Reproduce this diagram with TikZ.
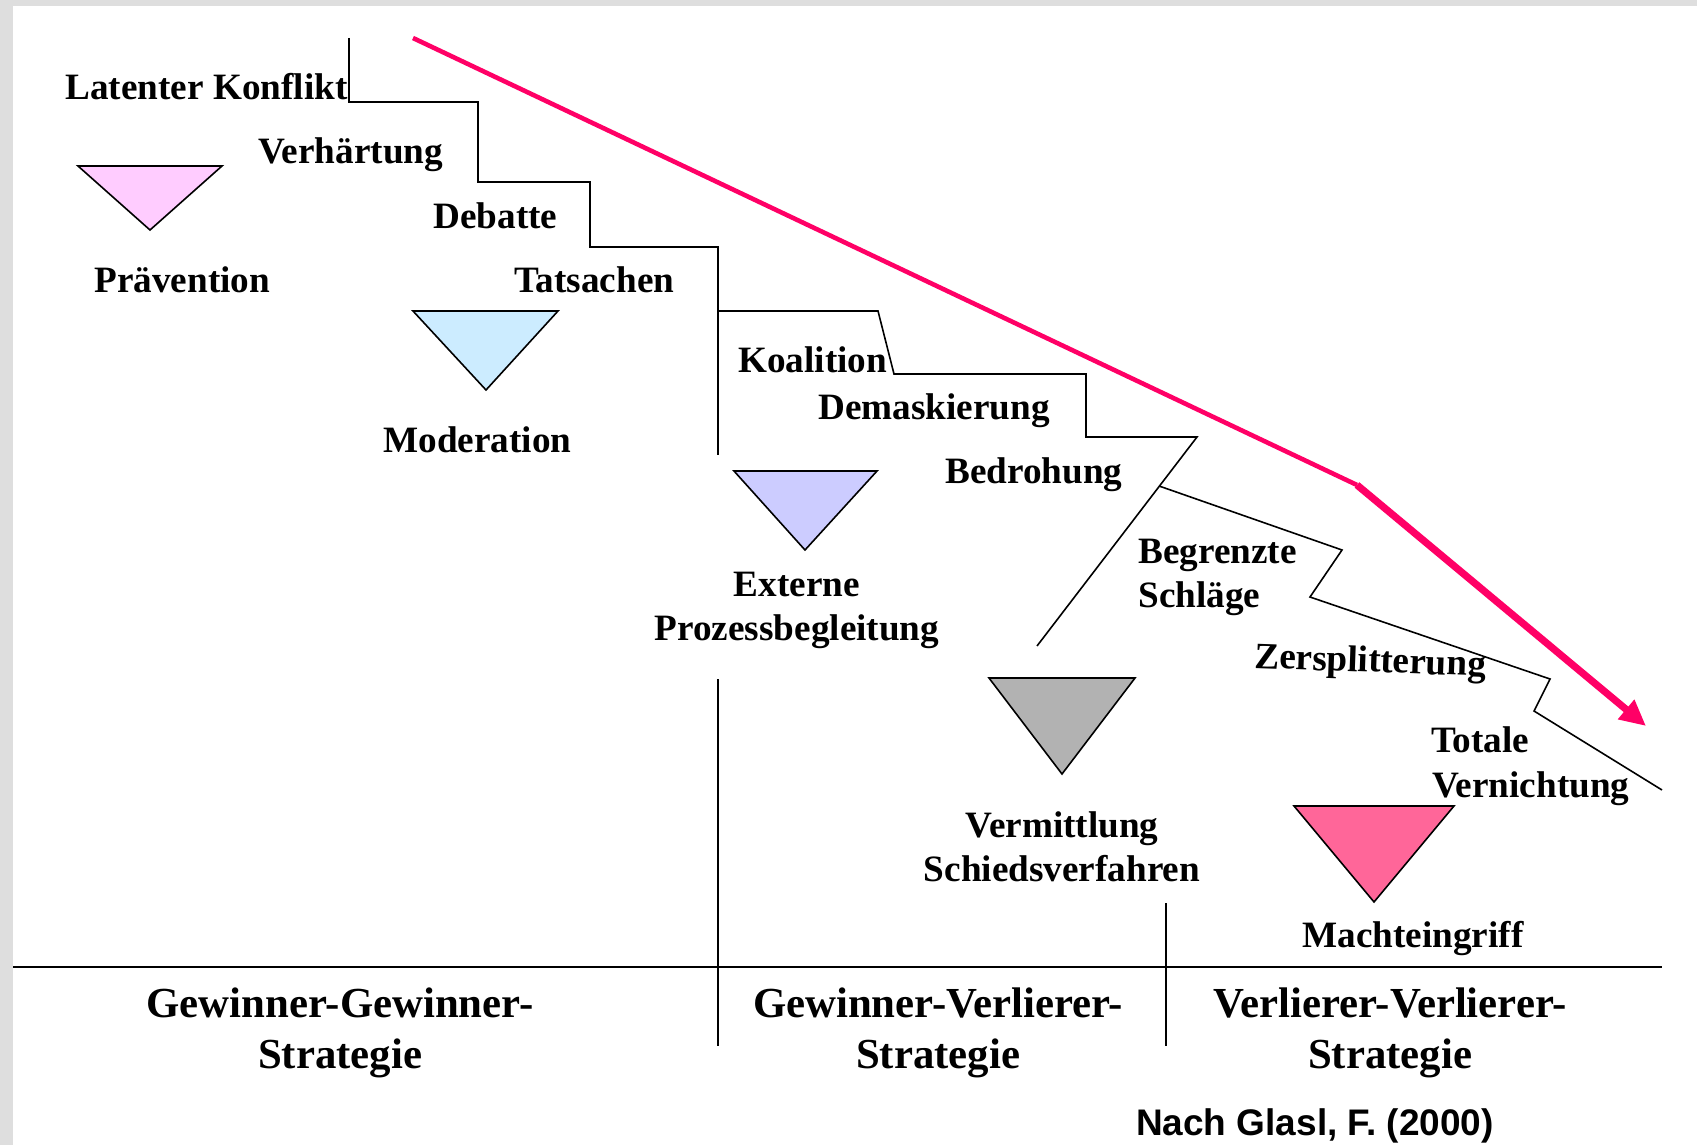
\documentclass[tikz,border=0pt]{standalone}
\usepackage{fontspec}
\setmainfont{Liberation Serif}
\newfontfamily\arialfont{Liberation Sans}
\usetikzlibrary{arrows.meta,calc}
\definecolor{bordergray}{RGB}{222,222,222}
\definecolor{arrowred}{RGB}{255,0,102}
\definecolor{praevfill}{RGB}{255,204,255}
\definecolor{modfill}{RGB}{204,236,255}
\definecolor{extfill}{RGB}{204,204,255}
\definecolor{vermfill}{RGB}{178,178,178}
\definecolor{machtfill}{RGB}{255,102,153}
\begin{document}
\begin{tikzpicture}[x=0.5pt,y=-0.5pt,
  lbl/.style={inner sep=0pt, anchor=base west, font=\bfseries\fontsize{18.6pt}{22pt}\selectfont},
  clbl/.style={inner sep=0pt, anchor=base, font=\bfseries\fontsize{18.6pt}{22pt}\selectfont},
  strat/.style={inner sep=0pt, anchor=base, font=\bfseries\fontsize{21.4pt}{23pt}\selectfont},
  stair/.style={draw=black, line width=0.8pt, line join=miter},
  sepline/.style={draw=black, line width=0.85pt},
  tri/.style={draw=black, line width=0.8pt, line join=miter}]

\useasboundingbox (0,0) rectangle (1697,1145);
\fill[bordergray] (0,0) rectangle (1697,1145);
\fill[white] (13,6) rectangle (1697,1145);

% staircase coordinates
\coordinate (s1) at (349,38);
\coordinate (s2) at (349,102);
\coordinate (s3) at (478,102);
\coordinate (s4) at (478,182);
\coordinate (s5) at (590,182);
\coordinate (s6) at (590,247);
\coordinate (s7) at (718,247);
\coordinate (s8) at (718,455);
\coordinate (k1) at (718,311);
\coordinate (k2) at (878,311);
\coordinate (k3) at (894,374);
\coordinate (k4) at (1086,374);
\coordinate (k5) at (1086,437);
\coordinate (k6) at (1197,437);
\coordinate (k7) at (1037,646);
\coordinate (b0) at ($(k6)!0.235!(k7)$);
\coordinate (b1) at (1342,550);
\coordinate (b2) at (1310,597);
\coordinate (b3) at (1550,679);
\coordinate (b4) at (1534,711);
\coordinate (b5) at (1662,790);

\draw[stair] (s1) -- (s2) -- (s3) -- (s4) -- (s5) -- (s6) -- (s7) -- (s8);
\draw[stair] (k1) -- (k2) -- (k3) -- (k4) -- (k5) -- (k6) -- (k7);
\draw[stair] (b0) -- (b1) -- (b2) -- (b3) -- (b4) -- (b5);

% separators
\coordinate (v1t) at (718,679);
\coordinate (v1b) at (718,1046);
\coordinate (v2t) at (1166,903);
\coordinate (v2b) at (1166,1046);
\coordinate (hl) at (13,967);
\coordinate (hr) at (1662,967);
\draw[sepline] (v1t) -- (v1b);
\draw[sepline] (v2t) -- (v2b);
\draw[sepline, line width=1pt] (hl) -- (hr);

% red arrow
\coordinate (r0) at (413,38);
\coordinate (r1) at (1357,485);
\coordinate (r2) at (1646,726);
\draw[arrowred, line width=2.3pt] (r0) -- (r1);
\draw[arrowred, line width=3.6pt, -{Triangle[length=13pt,width=12pt]}] (r1) -- (r2);

% triangles
\filldraw[tri, fill=praevfill] (78,166) -- (222,166) -- (150,230) -- cycle;
\filldraw[tri, fill=modfill] (413,311) -- (558,311) -- (486,390) -- cycle;
\filldraw[tri, fill=extfill] (734,471) -- (877,471) -- (805,550) -- cycle;
\filldraw[tri, fill=vermfill] (989,678) -- (1135,678) -- (1062,774) -- cycle;
\filldraw[tri, fill=machtfill] (1294,806) -- (1454,806) -- (1374,902) -- cycle;

% labels
\node[lbl] (latent) at (65,100) {Latenter Konflikt};
\node[lbl] (verh) at (258,163) {Verhärtung};
\node[lbl] (deb) at (433,228) {Debatte};
\node[lbl] (tats) at (514,292) {Tatsachen};
\node[lbl] (praev) at (94,292) {Prävention};
\node[lbl] (mod) at (383,452) {Moderation};
\node[lbl] (koal) at (738,372) {Koalition};
\node[lbl] (demask) at (818,419) {Demaskierung};
\node[lbl] (bedr) at (945,483) {Bedrohung};
\node[clbl] (ext1) at (797,596) {Externe};
\node[clbl] (ext2) at (797,640) {Prozessbegleitung};
\node[lbl] (begr1) at (1138,563) {Begrenzte};
\node[lbl] (begr2) at (1138,607) {Schläge};
\node[lbl, rotate=-2] (zersp) at (1254,668) {Zersplitterung};
\node[lbl] (tot1) at (1431,752) {Totale};
\node[lbl] (tot2) at (1432,797) {Vernichtung};
\node[clbl] (verm1) at (1062,837) {Vermittlung};
\node[clbl] (verm2) at (1062,881) {Schiedsverfahren};
\node[clbl] (macht) at (1413,947) {Machteingriff};

\node[strat] (gg1) at (340,1017) {Gewinner-Gewinner-};
\node[strat] (gg2) at (340,1068) {Strategie};
\node[strat] (gv1) at (938,1017) {Gewinner-Verlierer-};
\node[strat] (gv2) at (938,1068) {Strategie};
\node[strat] (vv1) at (1390,1017) {Verlierer-Verlierer-};
\node[strat] (vv2) at (1390,1068) {Strategie};

\node[inner sep=0pt, anchor=base, font=\arialfont\bfseries\fontsize{18.5pt}{22pt}\selectfont] (cite) at (1315,1135) {Nach Glasl, F. (2000)};
\end{tikzpicture}
\end{document}
